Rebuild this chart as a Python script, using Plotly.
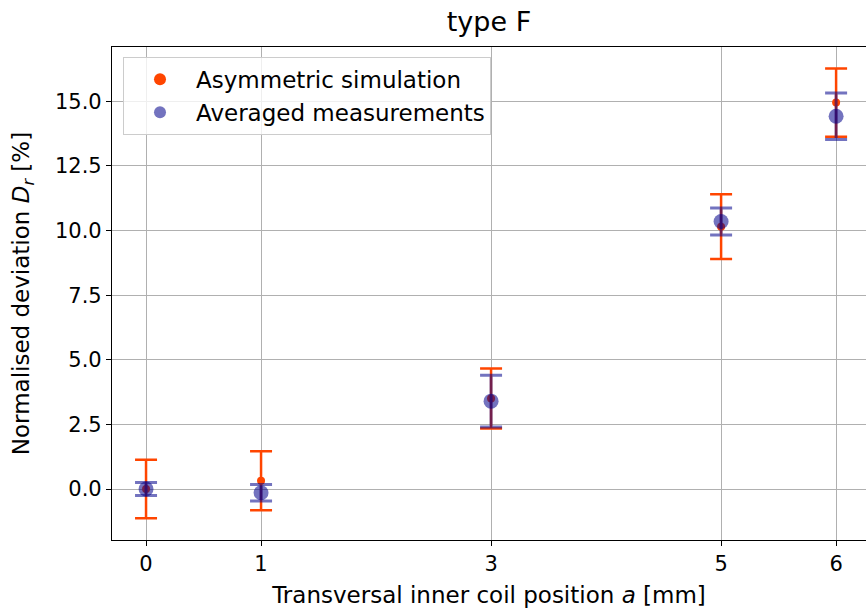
import plotly.graph_objects as go

# Transversal inner coil positions [mm]
positions = [0, 1, 3, 5, 6]

# Asymmetric simulation: normalised deviation and its uncertainty [%]
sim_dev = [0.0, 0.32, 3.5, 10.15, 14.95]
sim_err = [1.13, 1.14, 1.16, 1.25, 1.32]

# Averaged measurements: normalised deviation and its uncertainty [%]
meas_dev = [0.0, -0.14, 3.40, 10.35, 14.42]
meas_err = [0.25, 0.32, 1.0, 0.52, 0.90]

x_ticks = [0, 1, 3, 5, 6]
y_ticks = [0.0, 2.5, 5.0, 7.5, 10.0, 12.5, 15.0]

orange = "#ff4500"
blue = "rgba(0,0,139,0.55)"

fig = go.Figure()

fig.add_trace(go.Scatter(
    x=positions, y=sim_dev, mode="markers",
    name="Asymmetric simulation",
    marker=dict(color=orange, size=8),
    error_y=dict(type="data", array=sim_err, visible=True,
                 color=orange, thickness=2.5, width=11),
))

fig.add_trace(go.Scatter(
    x=positions, y=meas_dev, mode="markers",
    name="Averaged measurements",
    marker=dict(color=blue, size=15),
    error_y=dict(type="data", array=meas_err, visible=True,
                 color=blue, thickness=3, width=11),
))

tick_font = dict(family="DejaVu Sans", size=21, color="black")
label_font = dict(family="DejaVu Sans", size=23, color="black")

fig.update_layout(
    width=866, height=609,
    margin=dict(l=112, r=0, t=47, b=69),
    paper_bgcolor="white", plot_bgcolor="white",
    font=dict(family="DejaVu Sans", size=21, color="black"),
    title=dict(text="type F", x=0.5, xref="paper", y=1 - 22 / 609, yref="container",
               xanchor="center", yanchor="middle",
               font=dict(family="DejaVu Sans", size=27, color="black")),
    legend=dict(x=0.0146, y=0.98, xanchor="left", yanchor="top",
                bgcolor="rgba(255,255,255,0.8)", bordercolor="#cccccc",
                borderwidth=1, font=dict(family="DejaVu Sans", size=23),
                itemsizing="constant", itemwidth=62),
    showlegend=True,
)

fig.update_xaxes(
    range=[-0.296, 6.26], tickvals=x_ticks, ticktext=[str(v) for v in x_ticks],
    showline=True, linecolor="black", linewidth=1.2, mirror=True,
    ticks="outside", ticklen=5, tickcolor="black", tickwidth=1,
    showgrid=True, gridcolor="#b0b0b0", gridwidth=1, zeroline=False,
    tickfont=tick_font,
    title=dict(text="Transversal inner coil position <i>a</i> [mm]",
               font=label_font, standoff=11),
)

fig.update_yaxes(
    range=[-1.97, 17.1], tickvals=y_ticks, ticktext=[f"{v:.1f}" for v in y_ticks],
    showline=True, linecolor="black", linewidth=1.2, mirror=False,
    ticks="outside", ticklen=5, tickcolor="black", tickwidth=1,
    showgrid=True, gridcolor="#b0b0b0", gridwidth=1, zeroline=False,
    tickfont=tick_font,
    title=dict(text="Normalised deviation <i>D</i><sub><i>r</i></sub> [%]",
               font=label_font, standoff=18),
)

fig.write_html("out.html")
